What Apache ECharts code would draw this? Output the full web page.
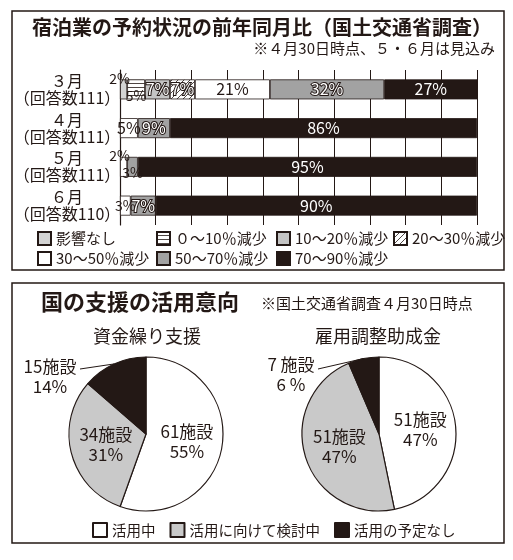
<!DOCTYPE html>
<html><head><meta charset="utf-8">
<script src="https://cdn.jsdelivr.net/npm/echarts@6/dist/echarts.min.js"></script>
<style>html,body{margin:0;padding:0;background:#fff}#c{width:513px;height:560px}</style>
</head><body><div id="c"></div>
<script>
// ---- data ----
const months = ['３月', '４月', '５月', '６月'];
const respondents = [111, 111, 111, 110];
const bandNames = ['影響なし', '０～10％減少', '10～20％減少', '20～30％減少', '30～50％減少', '50～70％減少', '70～90％減少'];
const noImpact   = [2, 0, 0, 0];
const down0to10  = [5, 0, 0, 0];
const down10to20 = [7, 0, 0, 0];
const down20to30 = [7, 0, 0, 0];
const down30to50 = [21, 5, 2, 3];
const down50to70 = [32, 9, 3, 7];
const down70to90 = [27, 86, 95, 90];

const pieNames = ['活用中', '活用に向けて検討中', '活用の予定なし'];
const fundingCounts = [61, 34, 15];
const fundingPct = [55, 31, 14];
const subsidyCounts = [51, 51, 7];
const subsidyPct = [47, 47, 6];

// ---- styles ----
const INK = '#231815';
const FONT = '"Noto Sans CJK JP", "Noto Sans", sans-serif';

function hLinePattern() {
  const c = document.createElement('canvas'); c.width = 4; c.height = 4;
  const g = c.getContext('2d'); g.fillStyle = '#fff'; g.fillRect(0, 0, 4, 4);
  g.fillStyle = INK; g.fillRect(0, 3, 4, 0.8);
  return { image: c, repeat: 'repeat' };
}
function hatchPattern() {
  const s = 6;
  const c = document.createElement('canvas'); c.width = s; c.height = s;
  const g = c.getContext('2d'); g.fillStyle = '#fff'; g.fillRect(0, 0, s, s);
  g.strokeStyle = INK; g.lineWidth = 0.8;
  g.beginPath();
  g.moveTo(0, s); g.lineTo(s, 0);
  g.moveTo(-s / 2, s / 2); g.lineTo(s / 2, -s / 2);
  g.moveTo(s / 2, s * 1.5); g.lineTo(s * 1.5, s / 2);
  g.stroke();
  return { image: c, repeat: 'repeat' };
}
const bandColors = ['#d3d3d3', hLinePattern(), '#c4c4c4', hatchPattern(), '#ffffff', '#a2a2a2', INK];
const labelKinds = ['dark', 'dark', 'outline', 'outline', 'dark', 'outline', 'light'];
// small labels placed at the bar's top / bottom edge: key = row-series
const edgeLabels = { '0-0': 'top', '0-1': 'bottom', '2-4': 'top', '2-5': 'bottom' };

const bandValues = [noImpact, down0to10, down10to20, down20to30, down30to50, down50to70, down70to90];

function labelStyle(kind) {
  if (kind === 'light') return { color: '#fff' };
  if (kind === 'outline') return { color: '#fff', textBorderColor: INK, textBorderWidth: 2 };
  return { color: INK };
}

const barSeries = bandNames.map((name, si) => ({
  type: 'bar', name, stack: 'total', barWidth: 20,
  itemStyle: { color: bandColors[si], borderColor: INK, borderWidth: 0.8 },
  label: Object.assign({ show: true, position: 'inside', fontFamily: FONT, fontSize: 16,
    formatter: p => p.value + '%' }, labelStyle(labelKinds[si])),
  emphasis: { disabled: true },
  data: bandValues[si].map((v, ri) => {
    if (!v) return '-';
    const edge = edgeLabels[ri + '-' + si];
    const item = { value: v };
    if (edge === 'top') item.label = { position: 'insideTop', offset: [-4, -13], fontSize: 14, color: INK, textBorderWidth: 0 };
    else if (edge === 'bottom') item.label = { position: 'insideBottom', offset: [0, 8], fontSize: 14, color: INK, textBorderWidth: 0 };
    else if (v < 4) item.label = { fontSize: 14 };
    return item;
  })
}));

function pieData(counts, pcts) {
  const colors = ['#ffffff', '#c9c9c9', INK];
  return pieNames.map((n, i) => {
    const d = { name: n, value: counts[i], pct: pcts[i], itemStyle: { color: colors[i] } };
    if (i === 2) d.label = { position: 'outside' };
    return d;
  });
}
// outside label: block centre and leader-line end, relative to pie centre
function pieSeries(center, counts, pcts, spaced, outLabel, outLineEnd) {
  return {
    type: 'pie', center, radius: 77, startAngle: 90, clockwise: true,
    itemStyle: { borderColor: INK, borderWidth: 1.2 },
    emphasis: { disabled: true },
    label: { show: true, position: 'inside', fontFamily: FONT, fontSize: 17, lineHeight: 20, color: INK,
      formatter: p => (spaced && p.dataIndex === 2)
        ? p.data.value + ' 施設\n' + p.data.pct + ' %'
        : p.data.value + '施設\n' + p.data.pct + '%' },
    labelLine: { show: true, length: 6, length2: 24, lineStyle: { color: INK, width: 1 } },
    labelLayout: params => {
      if (params.dataIndex !== 2) return {};
      const pts = params.labelLinePoints;
      const edge = pts && pts[0] ? pts[0] : [center[0], center[1] - 77];
      const end = [center[0] + outLineEnd[0], center[1] + outLineEnd[1]];
      return {
        x: center[0] + outLabel[0], y: center[1] + outLabel[1],
        align: 'center', verticalAlign: 'middle',
        labelLinePoints: [edge, end, end]
      };
    },
    data: pieData(counts, pcts)
  };
}

const legendPos = [[37, 231], [156, 231], [276, 231], [393, 231], [37, 251], [156, 251], [276, 251]];
const barLegends = bandNames.map((n, i) => ({
  data: [n], left: legendPos[i][0], top: legendPos[i][1], padding: 0, icon: 'rect',
  itemWidth: 13, itemHeight: 13, selectedMode: false,
  textStyle: { fontFamily: FONT, fontSize: 15, color: INK }
}));

const chart = echarts.init(document.getElementById('c'));
chart.setOption({
  animation: false,
  backgroundColor: '#fff',
  title: [
    { text: '宿泊業の予約状況の前年同月比（国土交通省調査）', left: 262, top: 17, textAlign: 'center', padding: 0,
      textStyle: { fontFamily: FONT, fontSize: 20, fontWeight: 'bold', color: INK } },
    { text: '※４月30日時点、５・６月は見込み', right: 18, top: 41, padding: 0,
      textStyle: { fontFamily: FONT, fontSize: 15, fontWeight: 'normal', color: INK } },
    { text: '国の支援の活用意向', left: 41, top: 291, padding: 0,
      textStyle: { fontFamily: FONT, fontSize: 22, fontWeight: 'bold', color: INK } },
    { text: '※国土交通省調査４月30日時点', left: 261, top: 296, padding: 0,
      textStyle: { fontFamily: FONT, fontSize: 15, fontWeight: 'normal', color: INK } },
    { text: '資金繰り支援', left: 147, top: 327, textAlign: 'center', padding: 0,
      textStyle: { fontFamily: FONT, fontSize: 18, fontWeight: 'normal', color: INK } },
    { text: '雇用調整助成金', left: 378, top: 327, textAlign: 'center', padding: 0,
      textStyle: { fontFamily: FONT, fontSize: 18, fontWeight: 'normal', color: INK } }
  ],
  legend: barLegends.concat([{
    data: pieNames, left: 92, top: 522, padding: 0, icon: 'rect', itemWidth: 14, itemHeight: 14, itemGap: 14,
    selectedMode: false, textStyle: { fontFamily: FONT, fontSize: 14.5, color: INK }
  }]),
  grid: { left: 120, right: 36, top: 70, bottom: 335 },
  xAxis: {
    type: 'value', min: 0, max: 100, interval: 10,
    axisLabel: { show: false }, axisTick: { show: false }, axisLine: { show: false },
    splitLine: { show: true, lineStyle: { color: INK, width: 1 } }
  },
  yAxis: {
    type: 'category', inverse: true,
    data: months.map((m, i) => m + '\n（回答数' + respondents[i] + '）'),
    axisLine: { show: true, lineStyle: { color: INK, width: 1.2 } },
    axisTick: { show: false },
    axisLabel: { fontFamily: FONT, fontSize: 16, lineHeight: 17, color: INK, align: 'center', margin: 53 }
  },
  graphic: [
    { type: 'rect', shape: { x: 12, y: 11, width: 492, height: 259 }, style: { fill: null, stroke: INK, lineWidth: 1.5 } },
    { type: 'rect', shape: { x: 12, y: 283, width: 492, height: 260 }, style: { fill: null, stroke: INK, lineWidth: 1.5 } }
  ],
  series: barSeries.concat([
    pieSeries([146, 434], fundingCounts, fundingPct, false, [-96, -57], [-66, -65]),
    pieSeries([379, 434], subsidyCounts, subsidyPct, true, [-88, -59], [-61, -65])
  ])
});
</script>
</body></html>
